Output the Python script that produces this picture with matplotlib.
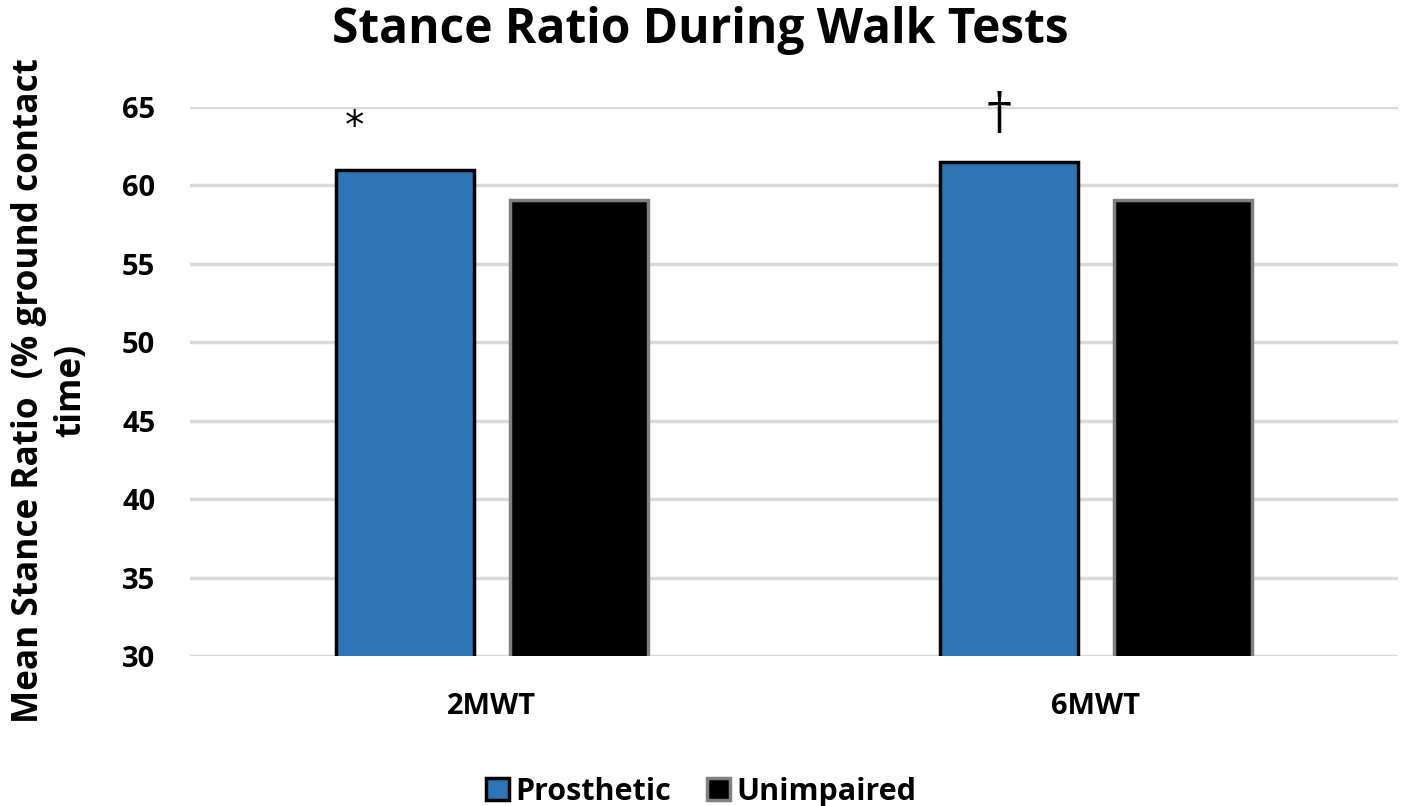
import matplotlib.pyplot as plt
import numpy as np

tests = ['2MWT', '6MWT']
prosthetic = [61.0, 61.5]
unimpaired = [59.1, 59.1]
marks = ['*', '†']
mark_y = [63.75, 64.55]

plt.rcParams['font.family'] = ['Open Sans', 'DejaVu Sans']
plt.rcParams['font.weight'] = 'bold'

fig = plt.figure(figsize=(14.02, 8.06), dpi=100)
ax = fig.add_axes([190 / 1402, 150 / 806, 1208 / 1402, 549 / 806])

x = np.arange(len(tests))
w = 0.229
off = 0.1445
ax.bar(x - off, prosthetic, w, color='#2e75b6', edgecolor='black', linewidth=2.5,
       label='Prosthetic', zorder=3)
ax.bar(x + off, unimpaired, w, color='black', edgecolor='#808080', linewidth=2.5,
       label='Unimpaired', zorder=3)

ax.text(x[0] - 0.228, mark_y[0], marks[0], ha='center', va='center', fontsize=28,
        fontweight='normal', family='DejaVu Sans')
ax.text(x[1] - 0.16, mark_y[1], marks[1], ha='center', va='center', fontsize=36,
        fontweight='normal', family='DejaVu Serif')

ax.set_xlim(-0.5, 1.5)
ax.set_ylim(30, 65)
ax.set_yticks(np.arange(30, 66, 5))
ax.set_xticks(x)
ax.set_xticklabels(tests)
ax.tick_params(axis='both', length=0, labelsize=21)
ax.tick_params(axis='x', pad=26)
ax.tick_params(axis='y', pad=25)
ax.yaxis.grid(True, color='#d9d9d9', linewidth=2.5, zorder=0)
ax.set_axisbelow(True)
for s in ax.spines.values():
    s.set_visible(False)

ax.set_title('Stance Ratio During Walk Tests', fontsize=34.5, fontweight='bold',
             pad=46, x=(700 - 190) / 1208)
ax.set_ylabel('Mean Stance Ratio  (% ground contact\ntime)', fontsize=25.3,
              fontweight='bold', linespacing=1.25)
ax.yaxis.set_label_coords(-0.083, 0.483)

leg = fig.legend(loc='lower center', bbox_to_anchor=(0.5, -0.035), ncol=2, frameon=False,
                 fontsize=22, handlelength=0.75, handleheight=0.75, handletextpad=0.2,
                 columnspacing=1.2)

fig.savefig('out.png', dpi=100)
